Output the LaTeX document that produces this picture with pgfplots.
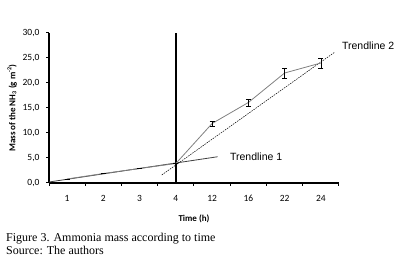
\documentclass[border=0pt]{standalone}
\usepackage{pgfplots}
\pgfplotsset{compat=1.18}
\usepackage{fontspec}
\setmainfont{Liberation Serif}
\newfontfamily\calib{Carlito}
\newfontfamily\arialf{Liberation Sans}
\begin{document}
\begin{tikzpicture}
\useasboundingbox (0,0) rectangle (404pt,262pt);
\begin{axis}[
  at={(49pt,79pt)}, anchor=south west,
  scale only axis, width=290pt, height=150pt,
  xmin=-0.5, xmax=7.5, ymin=0, ymax=30,
  clip=false,
  axis x line=bottom, axis y line=left,
  axis line style={-, line width=1.4pt, black},
  xtick={0,...,7}, xticklabels={1,2,3,4,12,16,22,24},
  major x tick style={draw=none},
  minor xtick={-0.5,0.5,...,7.5},
  minor x tick style={black, line width=1pt},
  minor tick length=3pt,
  ytick={0,5,...,30},
  major y tick style={black, line width=1pt},
  major tick length=3pt,
  tick align=outside,
  /pgf/number format/assume math mode=true,
  ticklabel style={font=\calib\fontsize{9.5}{11}\selectfont},
  xticklabel style={yshift=-6pt},
  yticklabel style={xshift=-3pt, /pgf/number format/fixed, /pgf/number format/fixed zerofill, /pgf/number format/precision=1, /pgf/number format/use comma},
  xlabel={\bfseries Time (h)},
  ylabel={\bfseries Mass of the NH\textsubscript{3} (g m\textsuperscript{-2})},
  label style={font=\calib\fontsize{9}{11}\selectfont},
  xlabel style={at={(axis description cs:0.5,-0.24)}, anchor=center},
  ylabel style={at={(axis description cs:-0.127,0.5)}, anchor=center},
]
% vertical separator at category 4
\addplot[black, line width=1.6pt] coordinates {(3,0) (3,30)};
% trendline 1
\addplot[black!75, line width=0.8pt] coordinates {(-0.5,0.2) (4.15,5.25)};
% trendline 2
\addplot[black, line width=0.5pt, dash pattern=on 1.5pt off 1pt] coordinates {(2.61,1.6) (7.37,26.1)};
% data
\addplot[black!50, line width=0.8pt, mark=none,
  error bars/.cd, y dir=both, y explicit,
  error bar style={black, line width=0.7pt},
  error mark options={rotate=90, mark size=2.5pt, black, line width=0.7pt}]
  coordinates {
  (0,0.8) +- (0,0)
  (1,1.9) +- (0,0)
  (2,2.9) +- (0,0)
  (3,3.9) +- (0,0)
  (4,11.9) +- (0,0.5)
  (5,16.1) +- (0,0.7)
  (6,22.0) +- (0,1.0)
  (7,24.0) +- (0,1.0)
  };
\node[anchor=west, font=\arialf\fontsize{10.5}{12}\selectfont, inner sep=0pt] at (axis cs:4.49,5.26) {Trendline 1};
\node[anchor=west, font=\arialf\fontsize{10.5}{12}\selectfont, inner sep=0pt] at (axis cs:7.58,27.46) {Trendline 2};
\end{axis}
\node[anchor=base west, inner sep=0pt, font=\fontsize{12}{14}\selectfont] at (6pt,20pt) {Figure 3. Ammonia mass according to time};
\node[anchor=base west, inner sep=0pt, font=\fontsize{12}{14}\selectfont] at (6pt,7.5pt) {Source: The authors};
\end{tikzpicture}
\end{document}
